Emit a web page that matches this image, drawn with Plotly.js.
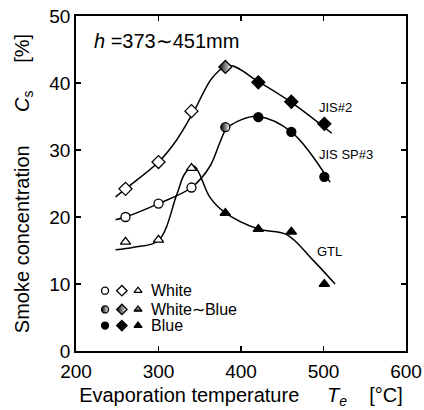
<!DOCTYPE html>
<html>
<head>
<meta charset="utf-8">
<script src="https://cdn.plot.ly/plotly-3.0.1.min.js"></script>
<style>html,body{margin:0;padding:0;background:#fff;}#chart{width:424px;height:410px;}</style>
</head>
<body>
<div id="chart"></div>
<script>
// ---- data ----
const temps = [260, 300, 340, 381, 421, 461, 501];
const jis2 = [24.2, 28.2, 35.8, 42.4, 40.1, 37.2, 33.9];
const jisSp3 = [20.0, 22.0, 24.4, 33.4, 34.9, 32.7, 26.0];
const gtl = [16.3, 16.6, 27.3, 20.6, 18.2, 17.8, 10.0];

const jis2Smoke = ['White', 'White', 'White', 'White~Blue', 'Blue', 'Blue', 'Blue'];
const jisSp3Smoke = ['White', 'White', 'White', 'White~Blue', 'Blue', 'Blue', 'Blue'];
const gtlSmoke = ['White', 'White', 'White', 'Blue', 'Blue', 'Blue', 'Blue'];

// fitted curves as drawn in the reference
const jis2CurveX = [248, 260, 300, 322, 343, 366, 386, 421, 461, 510];
const jis2CurveY = [23.0, 24.2, 28.2, 31.5, 35.8, 40.9, 42.6, 40.2, 37.1, 32.5];
const jisSp3CurveX = [248, 260, 300, 340, 362, 375, 382, 400, 421, 461, 508];
const jisSp3CurveY = [19.6, 20.0, 22.0, 24.4, 27.5, 31.3, 33.1, 34.5, 35.0, 32.7, 25.2];
const gtlCurveX = [248, 270, 300, 322, 332, 343, 362, 379, 421, 455, 487, 514];
const gtlCurveY = [15.1, 15.5, 16.5, 23.3, 26.5, 27.6, 23.0, 20.8, 18.2, 17.4, 13.6, 10.0];

const seriesNames = ['JIS#2', 'JIS SP#3', 'GTL'];
const legendLabels = ['White', 'White\u223CBlue', 'Blue'];
const legendCats = ['White', 'White~Blue', 'Blue'];
const xTickVals = [200, 300, 400, 500, 600];
const yTickVals = [0, 10, 20, 30, 40, 50];

// ---- styling helpers ----
const FONT = 'Arial, "Liberation Sans", Helvetica, sans-serif';
function markerFor(cats, symbol, size, halfDir) {
  return {
    symbol: symbol,
    size: size,
    color: cats.map(c => c === 'White' ? 'white' : (c === 'Blue' ? 'black' : (halfDir === 'vertical' ? 'white' : 'black'))),
    gradient: {
      type: cats.map(c => c === 'White~Blue' ? halfDir : 'none'),
      color: cats.map(c => c === 'White~Blue' ? (halfDir === 'vertical' ? 'black' : 'white') : 'black')
    },
    line: {color: 'black', width: 1.3}
  };
}

const curveLine = {color: 'black', width: 1.5, shape: 'spline', smoothing: 1};

const traces = [
  {x: jis2CurveX, y: jis2CurveY, mode: 'lines', line: curveLine, hoverinfo: 'skip'},
  {x: jisSp3CurveX, y: jisSp3CurveY, mode: 'lines', line: curveLine, hoverinfo: 'skip'},
  {x: gtlCurveX, y: gtlCurveY, mode: 'lines', line: curveLine, hoverinfo: 'skip'},
  {x: temps, y: jis2, mode: 'markers', name: seriesNames[0], marker: markerFor(jis2Smoke, 'diamond', 10, 'horizontal')},
  {x: temps, y: jisSp3, mode: 'markers', name: seriesNames[1], marker: markerFor(jisSp3Smoke, 'circle', 9, 'horizontal')},
  {x: temps, y: gtl, mode: 'markers', name: seriesNames[2], marker: markerFor(gtlSmoke, 'triangle-up', 9, 'vertical')}
];

// legend keys (drawn on an overlay axis in plot fractions)
const legRowY = [0.180, 0.124, 0.076];
const legSymX = [0.088, 0.139, 0.188];
const legSyms = ['circle', 'diamond', 'triangle-up'];
const legDirs = ['horizontal', 'horizontal', 'vertical'];
legSyms.forEach((s, j) => {
  const m = markerFor(legendCats, s, s === 'diamond' ? 8 : 7, legDirs[j]);
  traces.push({x: legendCats.map(() => legSymX[j]), y: legRowY, mode: 'markers',
    xaxis: 'x2', yaxis: 'y2', marker: m, hoverinfo: 'skip'});
});

const annotations = [
  {xref: 'paper', yref: 'paper', x: 0.048, y: 0.925, xanchor: 'left', yanchor: 'middle', showarrow: false,
   text: '<i>h</i> =373\u223C451mm', font: {family: FONT, size: 20, color: 'black'}},
  {x: 492, y: 36.4, xanchor: 'left', yanchor: 'middle', showarrow: false, text: seriesNames[0], font: {family: FONT, size: 13, color: 'black'}},
  {x: 492, y: 29.4, xanchor: 'left', yanchor: 'middle', showarrow: false, text: seriesNames[1], font: {family: FONT, size: 13, color: 'black'}},
  {x: 490, y: 14.8, xanchor: 'left', yanchor: 'middle', showarrow: false, text: seriesNames[2], font: {family: FONT, size: 13, color: 'black'}}
];
legendLabels.forEach((t, i) => {
  annotations.push({xref: 'paper', yref: 'paper', x: 0.222, y: legRowY[i], xanchor: 'left', yanchor: 'middle',
    showarrow: false, text: t, font: {family: FONT, size: 16, color: 'black'}});
});

const axisCommon = {
  showgrid: false, zeroline: false, showline: true, linecolor: 'black', linewidth: 1.8,
  mirror: 'ticks', ticks: 'inside', ticklen: 5, tickwidth: 1.2, tickcolor: 'black',
  tickfont: {family: FONT, size: 19, color: 'black'}
};

const layout = {
  width: 424, height: 410,
  margin: {l: 76, r: 18, t: 16, b: 59},
  paper_bgcolor: 'white', plot_bgcolor: 'white',
  showlegend: false,
  font: {family: FONT, color: 'black'},
  xaxis: Object.assign({}, axisCommon, {
    range: [200, 600], tickvals: xTickVals, ticktext: xTickVals.map(String),
    ticklabelstandoff: 2,
    title: {text: 'Evaporation temperature\u00A0\u00A0\u00A0\u00A0\u00A0<i>T</i><sub><i>e</i></sub>\u00A0\u00A0\u00A0\u00A0[\u00B0C]',
      font: {family: FONT, size: 20, color: 'black'}, standoff: 7}
  }),
  yaxis: Object.assign({}, axisCommon, {
    range: [0, 50], tickvals: yTickVals, ticktext: yTickVals.map(String),
    ticklabelstandoff: 0,
    title: {text: 'Smoke concentration\u00A0\u00A0\u00A0\u00A0\u00A0\u00A0<i>C</i><sub>s</sub>\u00A0\u00A0\u00A0\u00A0\u00A0[%]',
      font: {family: FONT, size: 20, color: 'black'}, standoff: 14}
  }),
  xaxis2: {overlaying: 'x', range: [0, 1], visible: false, fixedrange: true},
  yaxis2: {overlaying: 'y', range: [0, 1], visible: false, fixedrange: true},
  annotations: annotations
};

Plotly.newPlot('chart', traces, layout, {staticPlot: true, displayModeBar: false});
</script>
</body>
</html>
